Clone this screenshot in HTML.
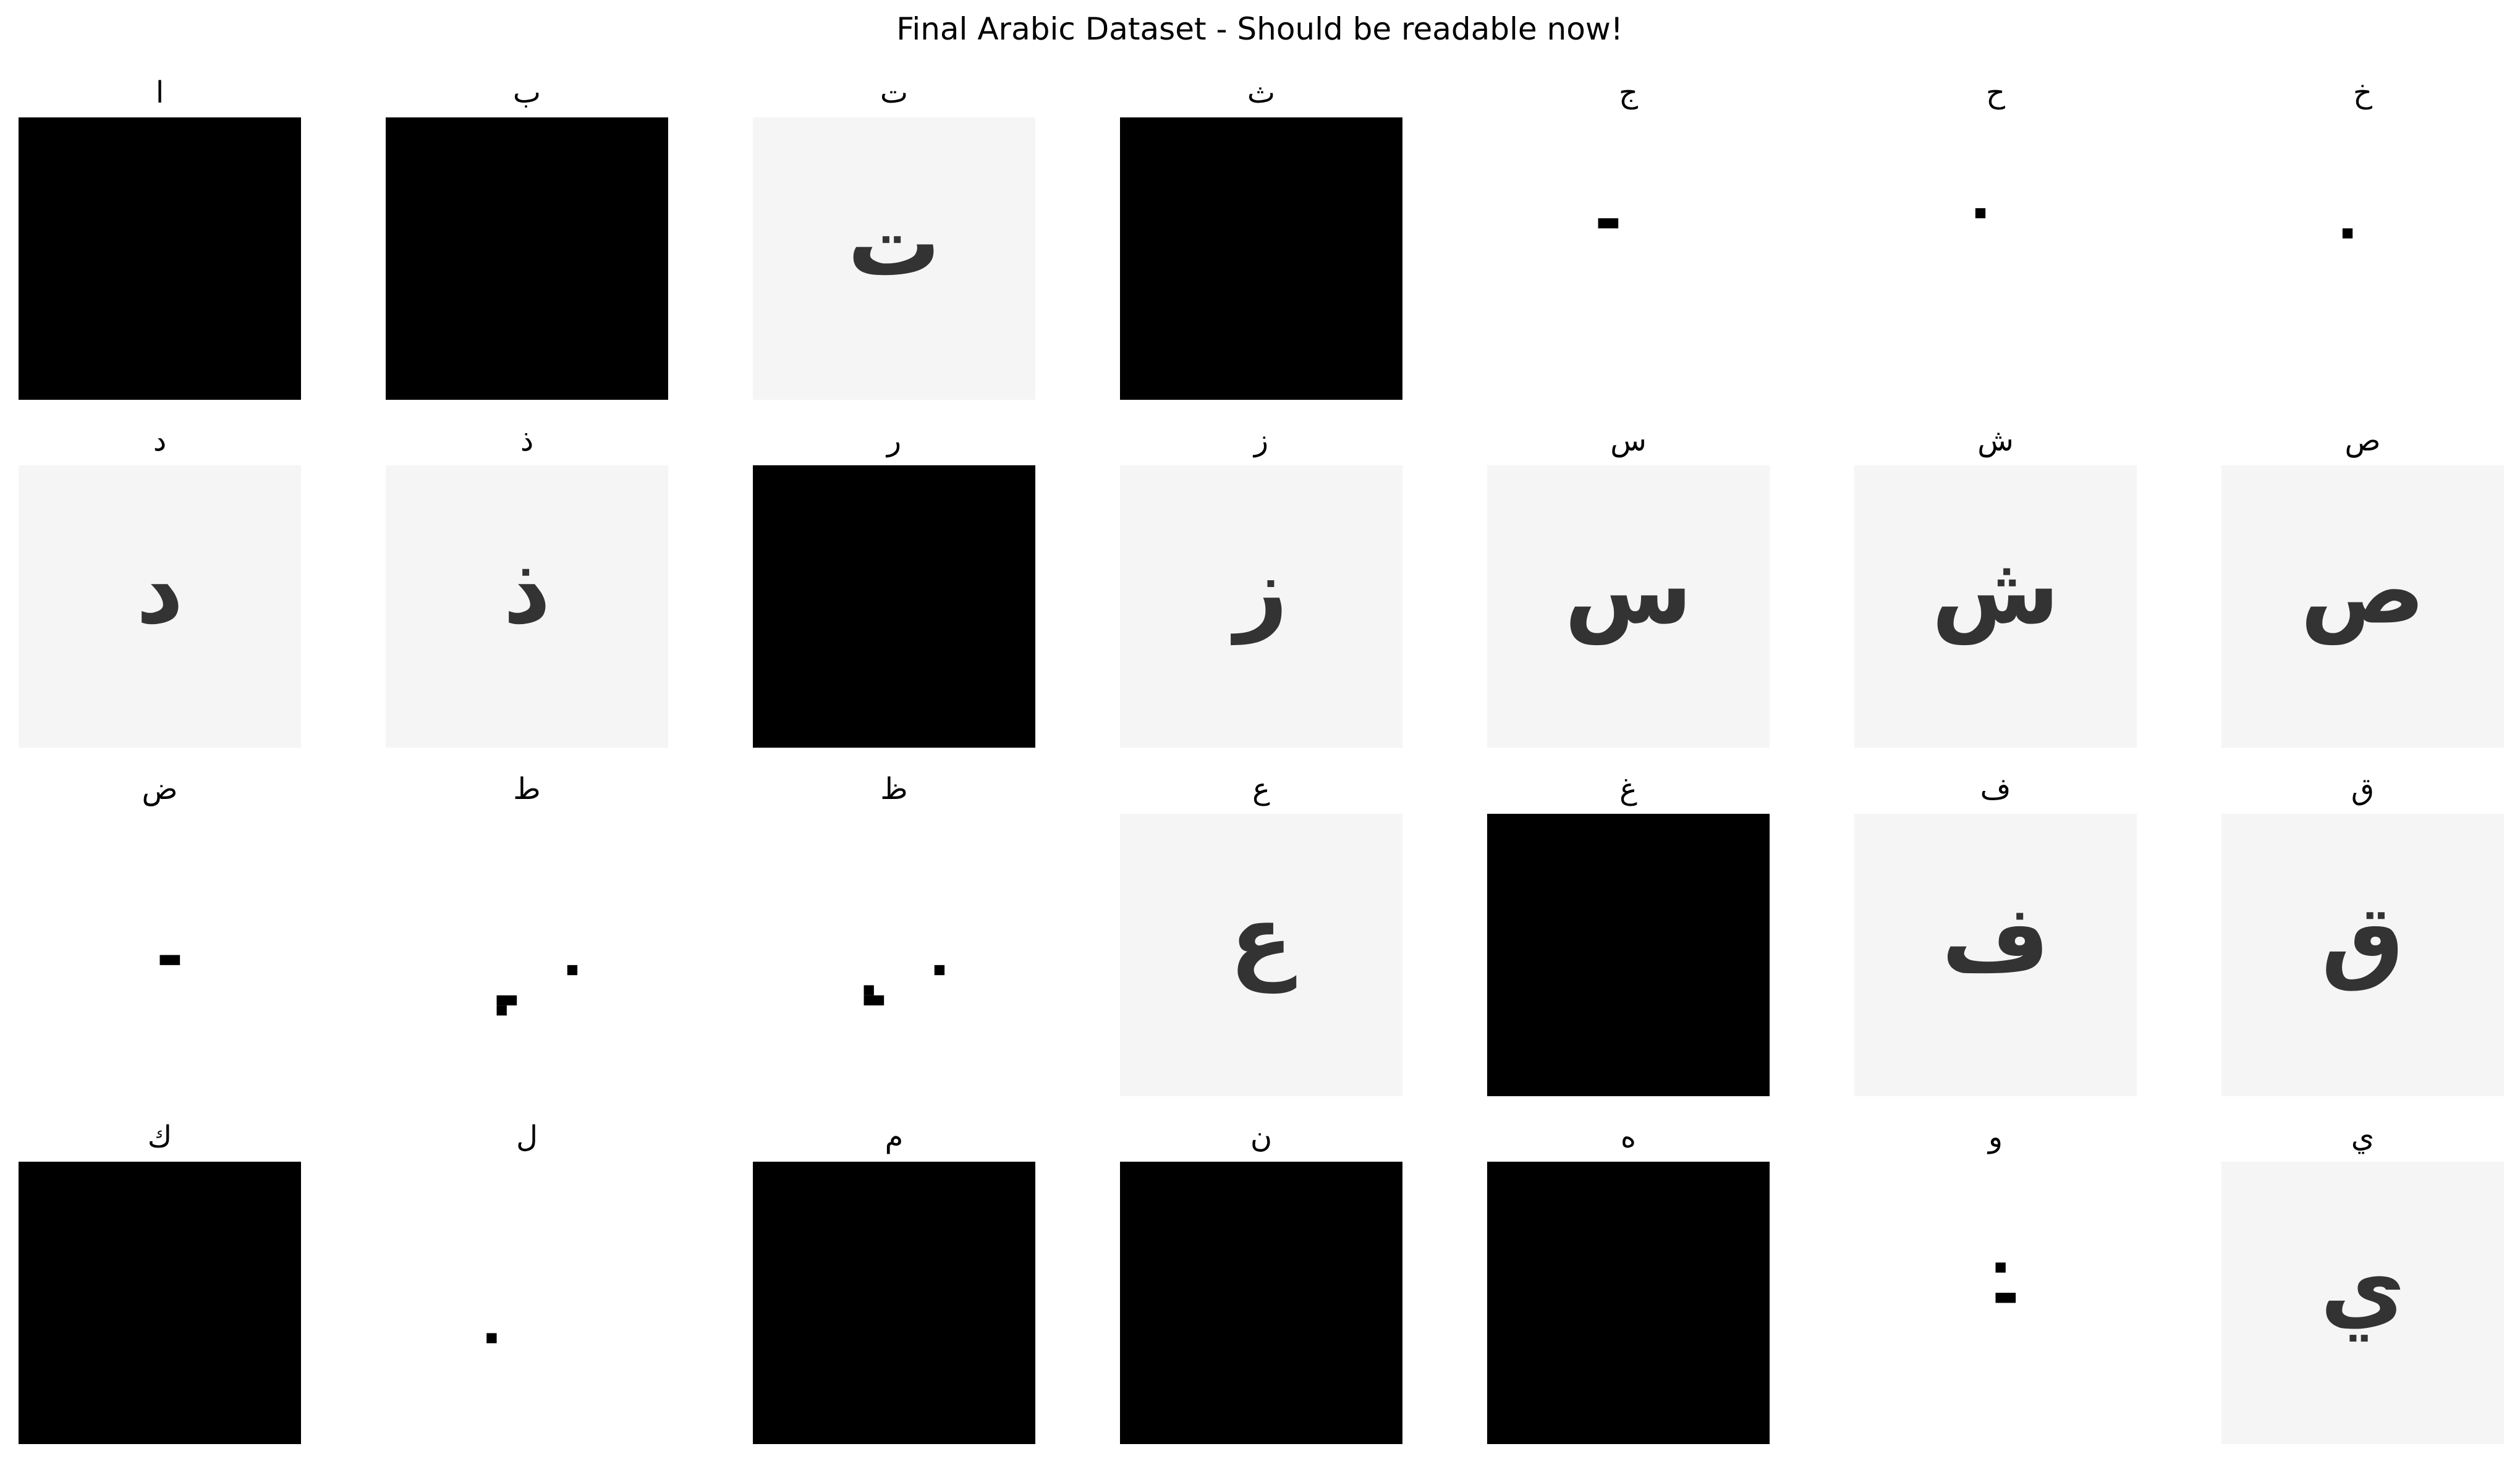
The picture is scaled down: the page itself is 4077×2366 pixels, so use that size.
<!DOCTYPE html>
<html><head><meta charset="utf-8"><style>
html,body{margin:0;padding:0;background:#fff;}
svg{display:block;}
</style></head><body>
<svg id="fig" width="4077" height="2366" viewBox="0 0 4077 2366" xmlns="http://www.w3.org/2000/svg">
<rect width="4077" height="2366" fill="#fff"/>
<text x="2038" y="64" text-anchor="middle" font-family="DejaVu Sans, Liberation Sans, sans-serif" font-size="50" fill="#000">Final Arabic Dataset - Should be readable now!</text>
<g id="panels"></g>
</svg>
<script>
const letters = ['ا','ب','ت','ث','ج','ح','خ','د','ذ','ر','ز','س','ش','ص','ض','ط','ظ','ع','غ','ف','ق','ك','ل','م','ن','ه','و','ي'];
// 0 = solid black, 1 = noisy handwritten glyph, 2 = white with small marks
const kinds = [0,0,1,0,2,2,2, 1,1,0,1,1,1,1, 2,2,2,1,0,1,1, 0,2,0,0,0,2,1];
// small marks in 28x28 cell units: [col,row,w,h]
const marks = {
  4: [[11,10,2,1]],
  5: [[12,9,1,1]],
  6: [[12,11,1,1]],
  14: [[14,14,2,1]],
  15: [[11,18,2,1],[11,19,1,1],[18,15,1,1]],
  16: [[11,17,1,1],[11,18,2,1],[18,15,1,1]],
  22: [[10,17,1,1]],
  26: [[14,10,1,1],[14,13,2,1]]
};
const colX = [30,624,1218,1812,2406,3000,3594];
const rowY = [190,753,1317,1880];
const S = 457, cell = S/28;
const NS = 'http://www.w3.org/2000/svg';
const g = document.getElementById('panels');
letters.forEach((L,i)=>{
  const x = colX[i%7], y = rowY[Math.floor(i/7)];
  const grp = document.createElementNS(NS,'g');
  
  
  const t = document.createElementNS(NS,'text');
  
  
  t.setAttribute('x', x + S/2); t.setAttribute('y', y - 24);
  t.setAttribute('text-anchor','middle');
  t.setAttribute('font-family','"DejaVu Sans", "Liberation Sans", sans-serif');
  t.setAttribute('font-size','48');
  t.textContent = L;
  grp.appendChild(t);
  const k = kinds[i];
  if (k === 0) {
    const r = document.createElementNS(NS,'rect');
    
    
    r.setAttribute('x',x); r.setAttribute('y',y); r.setAttribute('width',S); r.setAttribute('height',S);
    r.setAttribute('fill','#000');
    grp.appendChild(r);
  } else if (k === 1) {
    const r = document.createElementNS(NS,'rect');
    
    
    r.setAttribute('x',x); r.setAttribute('y',y); r.setAttribute('width',S); r.setAttribute('height',S);
    r.setAttribute('fill','#f5f5f5');
    grp.appendChild(r);
    const gl = document.createElementNS(NS,'text');
    
    
    gl.setAttribute('x', x + S/2); gl.setAttribute('y', y + S/2 - 25);
    gl.setAttribute('text-anchor','middle');
    gl.setAttribute('dominant-baseline','central');
    gl.setAttribute('font-family','"DejaVu Sans", sans-serif');
    gl.setAttribute('font-weight','bold');
    gl.setAttribute('font-size','150');
    gl.setAttribute('fill','#333');
    gl.textContent = L;
    grp.appendChild(gl);
  } else {
    (marks[i]||[]).forEach(m=>{
      const r = document.createElementNS(NS,'rect');
      
      
      r.setAttribute('x', x + m[0]*cell); r.setAttribute('y', y + m[1]*cell);
      r.setAttribute('width', m[2]*cell); r.setAttribute('height', m[3]*cell);
      r.setAttribute('fill','#000');
      grp.appendChild(r);
    });
  }
  g.appendChild(grp);
});
</script>
</body></html>
